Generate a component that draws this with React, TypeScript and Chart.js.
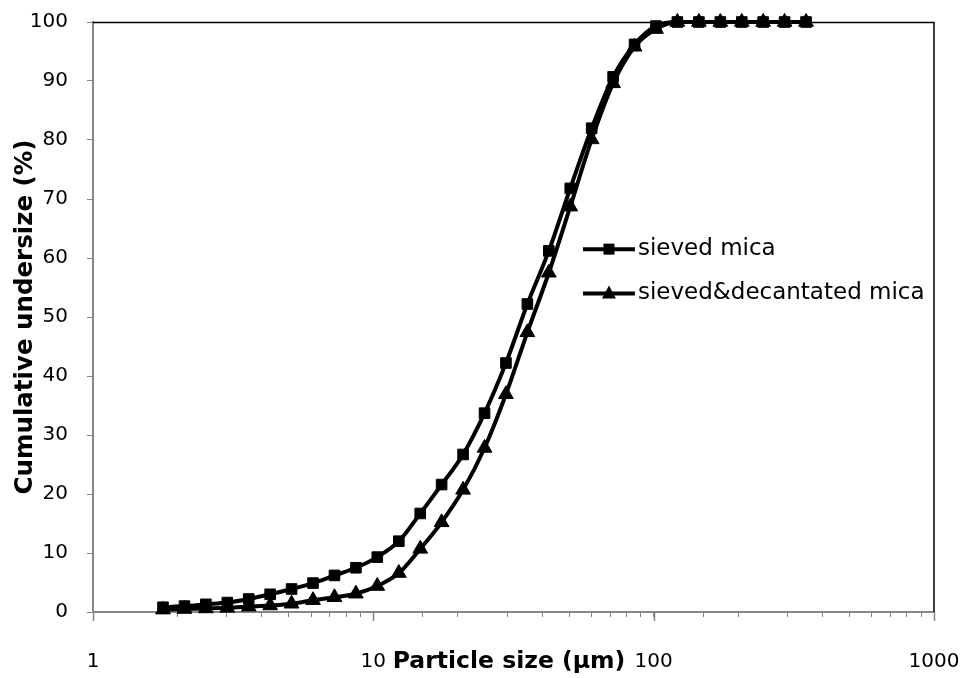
import React, { useEffect, useRef } from 'react';
import { Chart, registerables } from 'chart.js';
Chart.register(...registerables);

const particleSizes = [
  1.777, 2.12, 2.527, 3.014, 3.593, 4.285, 5.11, 6.094, 7.268, 8.666,
  10.33, 12.33, 14.7, 17.52, 20.9, 24.93, 29.72, 35.44, 42.27, 50.4,
  60.1, 71.68, 85.47, 101.9, 121.5, 145.0, 172.9, 206.2, 245.8, 293.1, 349.6,
];
const sievedMica = [
  0.8, 1.0, 1.3, 1.6, 2.2, 3.0, 3.9, 4.9, 6.2, 7.5,
  9.3, 12.0, 16.7, 21.6, 26.7, 33.7, 42.2, 52.2, 61.2, 71.8,
  82.0, 90.7, 96.2, 99.3, 100, 100, 100, 100, 100, 100, 100,
];
const decantatedMica = [
  0.4, 0.5, 0.6, 0.7, 0.9, 1.1, 1.4, 2.0, 2.5, 3.1,
  4.4, 6.6, 10.7, 15.2, 20.7, 27.8, 36.9, 47.4, 57.5, 68.7,
  80.1, 89.6, 95.8, 98.8, 100, 100, 100, 100, 100, 100, 100,
];
const seriesLabels = ['sieved mica', 'sieved&decantated mica'];
const seriesMarkers = ['rect', 'triangle'];
const xMajorTicks = [1, 10, 100, 1000];
const xTitle = 'Particle size (µm)';
const yTitle = 'Cumulative undersize (%)';

const FONT = '"DejaVu Sans", Verdana, sans-serif';
const AXIS_GRAY = '#868686';

const framePlugin = {
  id: 'frameAndMajorTicks',
  afterDraw(chart: any) {
    const { ctx, chartArea } = chart;
    const xs = chart.scales.x;
    ctx.save();
    ctx.strokeStyle = '#000';
    ctx.lineWidth = 1.5;
    ctx.beginPath();
    ctx.moveTo(chartArea.left, chartArea.top + 0.5);
    ctx.lineTo(chartArea.right, chartArea.top + 0.5);
    ctx.lineTo(chartArea.right, chartArea.bottom);
    ctx.stroke();
    ctx.strokeStyle = AXIS_GRAY;
    ctx.lineWidth = 1.5;
    xMajorTicks.forEach((v) => {
      const px = Math.round(xs.getPixelForValue(v)) + 0.5;
      ctx.beginPath();
      ctx.moveTo(px, chartArea.bottom);
      ctx.lineTo(px, chartArea.bottom + 9);
      ctx.stroke();
    });
    // x axis title (sits between the 10 and 100 labels, as in the original)
    const w = chartArea.right - chartArea.left;
    ctx.fillStyle = '#000';
    ctx.font = `bold 23.5px ${FONT}`;
    ctx.textAlign = 'center';
    ctx.textBaseline = 'middle';
    ctx.fillText(xTitle, chartArea.left + w * 0.4947, chartArea.bottom + 50);
    ctx.restore();
  },
};

const legendPlugin = {
  id: 'insideLegend',
  afterDraw(chart: any) {
    const { ctx, chartArea } = chart;
    const w = chartArea.right - chartArea.left;
    const h = chartArea.bottom - chartArea.top;
    const x0 = chartArea.left + w * 0.5826;
    const lineLen = 52;
    const rowYs = [chartArea.top + h * 0.385, chartArea.top + h * 0.46];
    ctx.save();
    chart.data.datasets.forEach((ds: any, i: number) => {
      const y = rowYs[i];
      ctx.strokeStyle = '#000';
      ctx.lineWidth = 4;
      ctx.beginPath();
      ctx.moveTo(x0, y);
      ctx.lineTo(x0 + lineLen, y);
      ctx.stroke();
      const cx = x0 + lineLen / 2;
      ctx.fillStyle = '#000';
      ctx.beginPath();
      if (seriesMarkers[i] === 'rect') {
        ctx.rect(cx - 5.5, y - 5.5, 11, 11);
      } else {
        ctx.moveTo(cx, y - 8);
        ctx.lineTo(cx + 7, y + 5);
        ctx.lineTo(cx - 7, y + 5);
        ctx.closePath();
      }
      ctx.fill();
      ctx.font = `23px ${FONT}`;
      ctx.textBaseline = 'middle';
      ctx.textAlign = 'left';
      ctx.fillText(ds.label, x0 + lineLen + 3, y);
    });
    ctx.restore();
  },
};

const zeroPadding = (s: any) => {
  s.paddingTop = 0;
  s.paddingBottom = 0;
  s.paddingLeft = 0;
  s.paddingRight = 0;
};

export default function App() {
  const canvasRef = useRef<HTMLCanvasElement | null>(null);

  useEffect(() => {
    const canvas = canvasRef.current;
    if (!canvas) return;
    const mk = (vals: number[], i: number) => ({
      label: seriesLabels[i],
      data: particleSizes.map((x, k) => ({ x, y: vals[k] })),
      borderColor: '#000',
      backgroundColor: '#000',
      borderWidth: 4,
      pointStyle: seriesMarkers[i],
      pointRadius: i === 0 ? 7.5 : 8.5,
      pointBorderWidth: 1,
      pointBorderColor: '#000',
      pointBackgroundColor: '#000',
      cubicInterpolationMode: 'monotone',
      clip: false,
    });
    const chart = new Chart(canvas, {
      type: 'line',
      data: { datasets: [mk(sievedMica, 0), mk(decantatedMica, 1)] as any },
      options: {
        responsive: false,
        animation: false,
        devicePixelRatio: 1,
        layout: { padding: { left: 0, top: 22, right: 34, bottom: 0 } },
        plugins: { legend: { display: false }, tooltip: { enabled: false } },
        scales: {
          x: {
            type: 'logarithmic',
            min: 1,
            max: 1000,
            afterFit: (s: any) => { s.height = 66; zeroPadding(s); },
            grid: { drawOnChartArea: false, drawTicks: true, tickLength: 5, tickColor: AXIS_GRAY, tickWidth: 1 },
            border: { color: AXIS_GRAY, width: 2 },
            ticks: {
              autoSkip: false,
              maxRotation: 0,
              minRotation: 0,
              padding: 33,
              color: '#000',
              font: { family: FONT, size: 20 },
              callback: (v: any) => (xMajorTicks.includes(Number(v)) ? String(v) : ''),
            },
            title: { display: false },
          },
          y: {
            type: 'linear',
            min: 0,
            max: 100,
            afterFit: (s: any) => { s.width = 93; zeroPadding(s); },
            grid: { drawOnChartArea: false, drawTicks: true, tickLength: 6, tickColor: AXIS_GRAY, tickWidth: 1 },
            border: { color: AXIS_GRAY, width: 2 },
            ticks: {
              stepSize: 10,
              padding: 19,
              color: '#000',
              font: { family: FONT, size: 20 },
            },
            title: {
              display: true,
              text: yTitle,
              color: '#000',
              font: { family: FONT, size: 24.5, weight: 'bold' },
              padding: { top: 11, bottom: 0 },
            },
          },
        },
      } as any,
      plugins: [framePlugin, legendPlugin],
    });
    return () => chart.destroy();
  }, []);

  return (
    <div style={{ position: 'absolute', left: 0, top: 0, width: 968, height: 678, background: '#fff' }}>
      <canvas ref={canvasRef} width={968} height={678} style={{ display: 'block' }} />
    </div>
  );
}
